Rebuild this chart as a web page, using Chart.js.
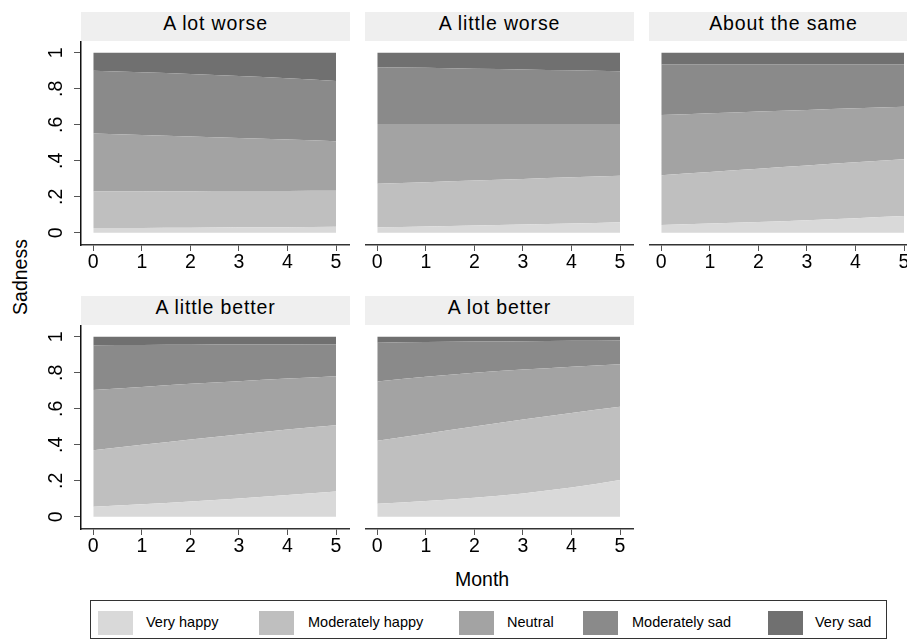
<!DOCTYPE html>
<html>
<head>
<meta charset="utf-8">
<title>Sadness by month</title>
<script src="https://cdn.jsdelivr.net/npm/chart.js@4/dist/chart.umd.min.js"></script>
<style>
  html, body { margin: 0; padding: 0; background: #fff; }
  body { position: relative; width: 907px; height: 641px; overflow: hidden;
         font-family: "Liberation Sans", Arial, Helvetica, sans-serif; color: #000; }
  canvas { position: absolute; }
  .strip { position: absolute; height: 29px; width: 269px; background: #efefef;
           text-align: center; font-size: 19.5px; line-height: 22px; letter-spacing: 0.85px; }
  .axis-title { position: absolute; font-size: 19.5px; white-space: nowrap; }
  #legend { position: absolute; left: 90px; top: 600px; width: 795px; height: 37px;
            border: 1.5px solid #333; box-sizing: content-box; }
  .key { position: absolute; top: 10px; width: 35px; height: 24px; }
  .key-label { position: absolute; top: 13px; font-size: 14.5px; line-height: 17px; white-space: nowrap; }
</style>
</head>
<body>
<script>
// Months on the horizontal axis
const MONTHS = [0, 1, 2, 3, 4, 5];

// Response categories, stacked from the bottom
const OUTCOMES = ['Very happy', 'Moderately happy', 'Neutral', 'Moderately sad', 'Very sad'];

// Panel headings (self-reported change)
const PANEL_TITLES = ['A lot worse', 'A little worse', 'About the same', 'A little better', 'A lot better'];

// Vertical axis ticks and their labels
const Y_TICKS = [0, 0.2, 0.4, 0.6, 0.8, 1];
const Y_TICK_LABELS = ['0', '.2', '.4', '.6', '.8', '1'];

// Predicted shares by month; one row per category, bottom to top
const aLotWorse = [
  [0.026, 0.027, 0.028, 0.030, 0.031, 0.033],
  [0.204, 0.203, 0.203, 0.202, 0.201, 0.200],
  [0.322, 0.314, 0.304, 0.295, 0.286, 0.276],
  [0.348, 0.348, 0.348, 0.345, 0.341, 0.335],
  [0.100, 0.108, 0.117, 0.128, 0.141, 0.156]
];
const aLittleWorse = [
  [0.030, 0.035, 0.040, 0.046, 0.052, 0.059],
  [0.242, 0.246, 0.250, 0.253, 0.256, 0.258],
  [0.332, 0.323, 0.314, 0.305, 0.296, 0.287],
  [0.316, 0.313, 0.308, 0.304, 0.299, 0.294],
  [0.080, 0.083, 0.088, 0.092, 0.097, 0.102]
];
const aboutTheSame = [
  [0.043, 0.051, 0.060, 0.070, 0.081, 0.093],
  [0.277, 0.287, 0.296, 0.304, 0.311, 0.316],
  [0.334, 0.326, 0.318, 0.309, 0.300, 0.291],
  [0.283, 0.273, 0.263, 0.254, 0.245, 0.237],
  [0.063, 0.063, 0.063, 0.063, 0.063, 0.063]
];
const aLittleBetter = [
  [0.056, 0.070, 0.085, 0.102, 0.121, 0.141],
  [0.314, 0.330, 0.345, 0.356, 0.364, 0.368],
  [0.334, 0.322, 0.309, 0.296, 0.283, 0.272],
  [0.250, 0.233, 0.217, 0.203, 0.190, 0.178],
  [0.046, 0.045, 0.044, 0.043, 0.042, 0.041]
];
const aLotBetter = [
  [0.072, 0.088, 0.106, 0.130, 0.162, 0.204],
  [0.350, 0.374, 0.396, 0.410, 0.415, 0.407],
  [0.330, 0.316, 0.298, 0.278, 0.257, 0.237],
  [0.216, 0.193, 0.174, 0.158, 0.144, 0.132],
  [0.032, 0.029, 0.026, 0.024, 0.022, 0.020]
];

const PANEL_DATA = [aLotWorse, aLittleWorse, aboutTheSame, aLittleBetter, aLotBetter];

// Grey shades, light (happy) to dark (sad)
const SHADES = ['#d9d9d9', '#bfbfbf', '#a3a3a3', '#8a8a8a', '#707070'];

const FONT_FAMILY = '"Liberation Sans", Arial, Helvetica, sans-serif';
Chart.defaults.font.family = FONT_FAMILY;
Chart.defaults.color = '#000';

// Panel placement: plot-area left edge per column, top per row
const COL_LEFT = [81, 365, 649];
const ROW_TOP = [41, 325];
const PLOT_W = 269;
const PLOT_H = 204;
const Y_AXIS_W = 45;
const X_AXIS_H = 30;

// Vertical tick labels written sideways, reading bottom to top
const sidewaysYLabels = {
  id: 'sidewaysYLabels',
  afterDraw(chart) {
    const s = chart.scales.y;
    if (!s.options.display) return;
    const ctx = chart.ctx;
    ctx.save();
    ctx.font = '19.5px ' + FONT_FAMILY;
    ctx.fillStyle = '#000';
    ctx.textAlign = 'center';
    ctx.textBaseline = 'middle';
    const x = s.right - 24;
    Y_TICKS.forEach((v, i) => {
      const y = s.getPixelForValue(v);
      ctx.save();
      ctx.translate(x, y);
      ctx.rotate(-Math.PI / 2);
      ctx.fillText(Y_TICK_LABELS[i], 0, 0);
      ctx.restore();
    });
    ctx.restore();
  }
};

function addStrip(title, left, top) {
  const d = document.createElement('div');
  d.className = 'strip';
  d.style.left = left + 'px';
  d.style.top = (top - 29) + 'px';
  d.textContent = title;
  document.body.appendChild(d);
}

function makePanel(idx) {
  const col = idx % 3;
  const row = Math.floor(idx / 3);
  const showY = col === 0;
  const yW = showY ? Y_AXIS_W : 0;
  const left = COL_LEFT[col];
  const top = ROW_TOP[row];

  addStrip(PANEL_TITLES[idx], left, top);

  const canvas = document.createElement('canvas');
  const cw = PLOT_W + yW;
  const ch = PLOT_H + X_AXIS_H;
  canvas.width = cw;
  canvas.height = ch;
  canvas.style.width = cw + 'px';
  canvas.style.height = ch + 'px';
  canvas.style.left = (left - yW) + 'px';
  canvas.style.top = top + 'px';
  document.body.appendChild(canvas);

  const shares = PANEL_DATA[idx];
  const datasets = OUTCOMES.map((name, i) => ({
    label: name,
    data: MONTHS.map((m, j) => ({ x: m, y: shares[i][j] })),
    backgroundColor: SHADES[i],
    borderColor: SHADES[i],
    borderWidth: 0,
    pointRadius: 0,
    fill: i === 0 ? 'origin' : '-1',
    cubicInterpolationMode: 'monotone'
  }));

  new Chart(canvas, {
    type: 'line',
    data: { datasets },
    plugins: [sidewaysYLabels],
    options: {
      responsive: false,
      animation: false,
      devicePixelRatio: 1,
      layout: { padding: 0 },
      plugins: { legend: { display: false }, tooltip: { enabled: false } },
      scales: {
        x: {
          type: 'linear',
          bounds: 'data',
          min: -0.253,
          max: 5.288,
          afterBuildTicks: s => { s.ticks = MONTHS.map(v => ({ value: v })); },
          afterFit: s => { s.height = X_AXIS_H; s.paddingLeft = 0; s.paddingRight = 0; },
          ticks: { autoSkip: false, maxRotation: 0, padding: 0, color: '#000',
                   font: { size: 19.5 } },
          grid: { drawOnChartArea: false, drawTicks: true, tickLength: 6, color: '#555' },
          border: { display: true, color: '#333', width: 1.5 }
        },
        y: {
          type: 'linear',
          stacked: true,
          display: showY,
          bounds: 'data',
          min: -0.068,
          max: 1.066,
          afterBuildTicks: s => { s.ticks = Y_TICKS.map(v => ({ value: v })); },
          afterFit: s => { s.width = yW; s.paddingTop = 0; s.paddingBottom = 0; },
          ticks: { display: false },
          grid: { drawOnChartArea: false, drawTicks: true, tickLength: 7, color: '#555' },
          border: { display: true, color: '#111', width: 1.5 }
        }
      }
    }
  });
}

PANEL_DATA.forEach((_, i) => makePanel(i));

// Shared axis titles
const xTitle = document.createElement('div');
xTitle.className = 'axis-title';
xTitle.textContent = 'Month';
xTitle.style.left = '455px';
xTitle.style.top = '568px';
document.body.appendChild(xTitle);

const yTitle = document.createElement('div');
yTitle.className = 'axis-title';
yTitle.textContent = 'Sadness';
yTitle.style.left = '20px';
yTitle.style.top = '277px';
yTitle.style.transform = 'translate(-50%, -50%) rotate(-90deg)';
document.body.appendChild(yTitle);

// Legend row
const LEGEND_KEY_X = [7, 168, 368, 492, 677];
const LEGEND_LABEL_X = [55, 217, 416, 541, 724];
const legend = document.createElement('div');
legend.id = 'legend';
OUTCOMES.forEach((name, i) => {
  const k = document.createElement('div');
  k.className = 'key';
  k.style.left = LEGEND_KEY_X[i] + 'px';
  k.style.background = SHADES[i];
  legend.appendChild(k);
  const t = document.createElement('div');
  t.className = 'key-label';
  t.style.left = LEGEND_LABEL_X[i] + 'px';
  t.textContent = name;
  legend.appendChild(t);
});
document.body.appendChild(legend);
</script>
</body>
</html>
